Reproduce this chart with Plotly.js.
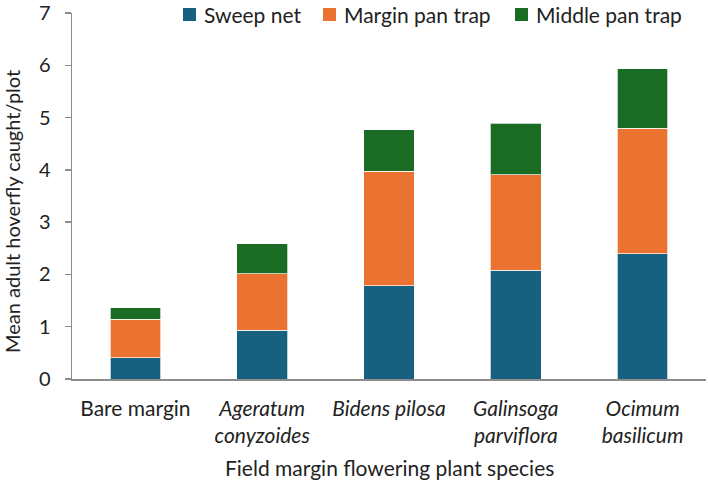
<!DOCTYPE html>
<html>
<head>
<meta charset="utf-8">
<script src="https://cdn.plot.ly/plotly-3.0.1.min.js"></script>
<style>html,body{margin:0;padding:0;background:#fff;}#chart{width:708px;height:483px;}</style>
</head>
<body>
<div id="chart"></div>
<script>
const categories = ['Bare margin', 'Ageratum conyzoides', 'Bidens pilosa', 'Galinsoga parviflora', 'Ocimum basilicum'];
const tickLabels = ['Bare margin', '<i>Ageratum</i><br><i>conyzoides</i>', '<i>Bidens pilosa</i>', '<i>Galinsoga</i><br><i>parviflora</i>', '<i>Ocimum</i><br><i>basilicum</i>'];
const seriesNames = ['Sweep net', 'Margin pan trap', 'Middle pan trap'];
const sweepNet = [0.41, 0.93, 1.78, 2.08, 2.40];
const marginPanTrap = [0.73, 1.08, 2.19, 1.83, 2.40];
const middlePanTrap = [0.22, 0.58, 0.80, 0.98, 1.13];
const yTicks = [0, 1, 2, 3, 4, 5, 6, 7];

const colors = ['#17607f', '#ea7331', '#1a6b24'];
const seriesValues = [sweepNet, marginPanTrap, middlePanTrap];
const FONT = 'Lato, "Open Sans", sans-serif';

const traces = seriesValues.map((vals, i) => ({
  type: 'bar',
  name: seriesNames[i],
  x: categories,
  y: vals,
  marker: {color: colors[i], line: {color: 'rgba(255,255,255,0.7)', width: 1}},
  width: 0.4,
  showlegend: false,
  hoverinfo: 'skip'
}));

// custom legend positions (paper coords)
const W = 634, H = 366, L = 72, T = 13;
const legendX = [183, 323, 515];
const shapes = [];
const annotations = [];
seriesNames.forEach((n, i) => {
  const x0 = (legendX[i] - L) / W, x1 = (legendX[i] + 13 - L) / W;
  const y0 = (H + T - 21) / H, y1 = (H + T - 8) / H;
  shapes.push({type: 'rect', xref: 'paper', yref: 'paper', x0: x0, x1: x1, y0: y0, y1: y1,
    fillcolor: colors[i], line: {width: 0}});
  annotations.push({xref: 'paper', yref: 'paper', x: (legendX[i] + 19 - L) / W, y: (H + T - 14) / H,
    xanchor: 'left', yanchor: 'middle', text: n, showarrow: false,
    font: {family: FONT, size: 21, color: '#222'}});
});
annotations.push({xref: 'paper', yref: 'paper', x: (12 - L) / W, y: (H + T - 212) / H,
  xanchor: 'center', yanchor: 'middle', textangle: -90, showarrow: false,
  text: 'Mean adult hoverfly caught/plot', font: {family: FONT, size: 20, color: '#222'}});
annotations.push({xref: 'paper', yref: 'paper', x: 0.5, y: (H + T - 467) / H,
  xanchor: 'center', yanchor: 'middle', showarrow: false,
  text: 'Field margin flowering plant species', font: {family: FONT, size: 21, color: '#222'}});

const layout = {
  width: 708, height: 483,
  margin: {l: L, r: 708 - L - W, t: T, b: 483 - T - H, pad: 0},
  barmode: 'stack',
  paper_bgcolor: '#fff', plot_bgcolor: '#fff',
  font: {family: FONT, size: 20, color: '#222'},
  xaxis: {
    type: 'category', tickvals: categories, ticktext: tickLabels,
    showline: true, linecolor: '#8c8c8c', linewidth: 1.5, ticks: '', showgrid: false,
    zeroline: false, ticklabelstandoff: 10, ticklabeloverflow: 'allow',
    tickfont: {family: FONT, size: 21, color: '#222'}
  },
  yaxis: {
    range: [0, 7], tickvals: yTicks, ticks: 'outside', ticklen: 6, tickcolor: '#8c8c8c', tickwidth: 1.5,
    showline: true, linecolor: '#8c8c8c', linewidth: 1.5, showgrid: false, zeroline: false,
    ticklabelstandoff: 10, ticklabeloverflow: 'allow', tickfont: {family: FONT, size: 20, color: '#222'}
  },
  shapes: shapes,
  annotations: annotations
};

Plotly.newPlot('chart', traces, layout, {staticPlot: true, displayModeBar: false});
</script>
</body>
</html>
